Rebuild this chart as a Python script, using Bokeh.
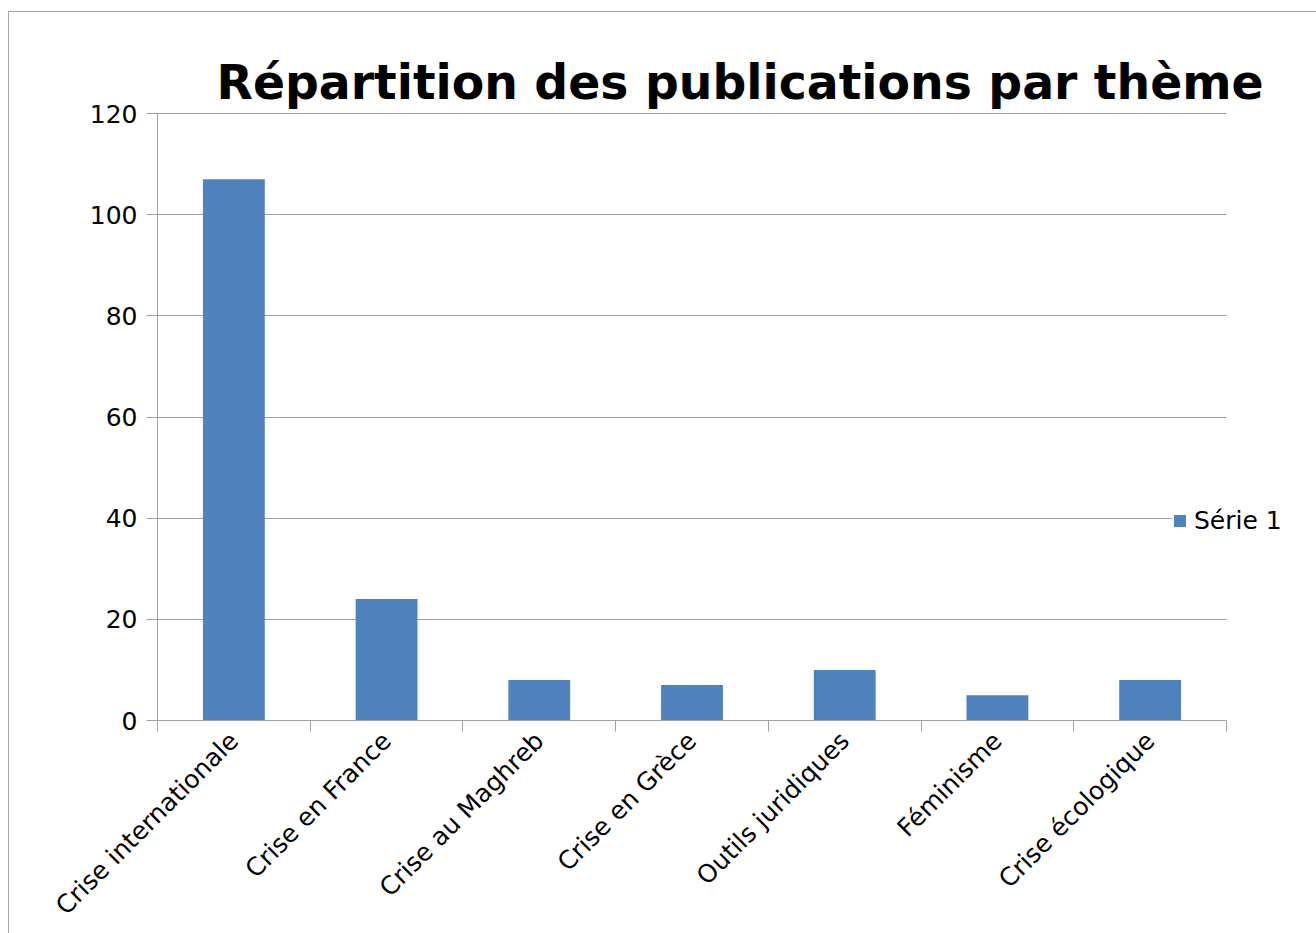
from math import pi
from bokeh.plotting import figure
from bokeh.models import (ColumnDataSource, FixedTicker, Range1d, Legend,
                          LegendItem, BoxAnnotation)
from bokeh.embed import file_html
from bokeh.resources import INLINE

# ---- data ----
categories = ["Crise internationale", "Crise en France", "Crise au Maghreb",
              "Crise en Grèce", "Outils juridiques", "Féminisme", "Crise écologique"]
values = [107, 24, 8, 7, 10, 5, 8]
y_ticks = [0, 20, 40, 60, 80, 100, 120]
series_name = "Série 1"
title_text = "Répartition des publications par thème"

n = len(categories)
centers = [2 * i + 1 for i in range(n)]
bounds = [2 * i for i in range(n + 1)]

src = ColumnDataSource(dict(x=centers, top=values, name=categories))

BLUE = "#4F81BD"
GRID = "#a0a0a0"
FONT = "DejaVu Sans"

# ---- layout geometry (pixels inside the figure) ----
W, H = 1308, 922
FRAME_L, FRAME_R_AXIS, FRAME_T, FRAME_B = 149, 1218, 100, 709
px_per_unit = (FRAME_R_AXIS - FRAME_L) / (2 * n)
x_end = 2 * n + (W - FRAME_R_AXIS) / px_per_unit
y_px_per_unit = (FRAME_B - (FRAME_T + 2)) / 120.0
y_end = 120 + 2 / y_px_per_unit

p = figure(width=W, height=H,
           x_range=Range1d(0, x_end), y_range=Range1d(0, y_end),
           output_backend="svg", toolbar_location=None,
           min_border_left=FRAME_L, min_border_right=0,
           min_border_top=FRAME_T, min_border_bottom=H - FRAME_B)
p.margin = (11, 0, 0, 8)
p.outline_line_color = None
p.background_fill_color = "white"
p.border_fill_color = "white"
p.border_fill_alpha = 0.0
p.styles = {"box-shadow": "inset 1px 1px 0 #a6a6a6"}

r = p.vbar(x="x", top="top", width=0.81, source=src,
           fill_color=BLUE, line_color=None)

# title
p.title.text = title_text
p.title.text_font = FONT
p.title.text_font_style = "bold"
p.title.text_font_size = "47.3px"
p.title.text_color = "black"
p.title.align = "left"
p.title.offset = 59
p.title.standoff = 4

# x axis
xa = p.xaxis[0]
xa.bounds = (0, 2 * n)
xa.ticker = FixedTicker(ticks=centers, minor_ticks=bounds)
xa.major_label_overrides = {c: name for c, name in zip(centers, categories)}
xa.major_label_orientation = pi / 4
xa.major_label_text_font = FONT
xa.major_label_text_font_size = "25px"
xa.major_label_text_color = "black"
xa.major_label_standoff = 5
xa.major_tick_line_color = None
xa.major_tick_in = 0
xa.major_tick_out = 0
xa.minor_tick_in = 0
xa.minor_tick_out = 11
xa.minor_tick_line_color = GRID
xa.axis_line_color = GRID

# y axis
ya = p.yaxis[0]
ya.bounds = (0, 120)
ya.ticker = FixedTicker(ticks=y_ticks, minor_ticks=[])
ya.major_label_text_font = FONT
ya.major_label_text_font_size = "25px"
ya.major_label_text_color = "black"
ya.major_label_standoff = 9
ya.major_tick_in = 0
ya.major_tick_out = 11
ya.major_tick_line_color = GRID
ya.minor_tick_line_color = None
ya.axis_line_color = GRID

p.xgrid.visible = False
p.ygrid.ticker = FixedTicker(ticks=y_ticks)
p.ygrid.grid_line_color = GRID

# white area right of the category axis (gridlines stop at the last category)
p.add_layout(BoxAnnotation(left=2 * n, fill_color="white", fill_alpha=1.0,
                           line_color=None))

legend = Legend(items=[LegendItem(label=series_name, renderers=[r])],
                location=(1015, 185), orientation="vertical",
                glyph_width=15, glyph_height=15, label_standoff=7,
                label_text_font=FONT, label_text_font_size="25px",
                label_text_color="black",
                padding=0, margin=0, spacing=0,
                border_line_color=None, background_fill_color="white",
                background_fill_alpha=1.0)
p.add_layout(legend)

open("out.html", "w").write(file_html(p, INLINE))
